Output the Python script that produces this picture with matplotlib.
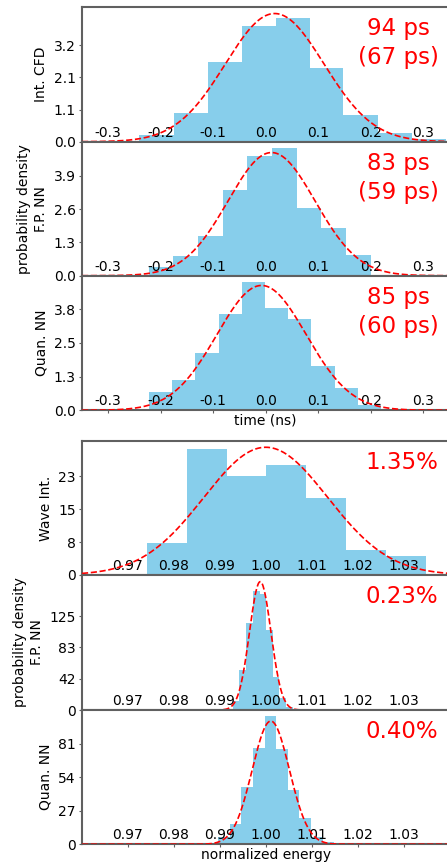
import numpy as np
import matplotlib
matplotlib.use("Agg")
import matplotlib.pyplot as plt

plt.rcParams['axes.unicode_minus'] = False
plt.rcParams['font.family'] = ['DejaVu Sans']
plt.rcParams['font.size'] = 10

# ---------------- data ----------------
# timing histograms (ns)
cfd_edges = [-0.241, -0.175, -0.110, -0.045, 0.019, 0.084, 0.148, 0.213, 0.278, 0.343]
cfd_heights = [0.21, 0.94, 2.64, 3.83, 4.08, 2.43, 0.87, 0.28, 0.08]

fpt_edges = [-0.223, -0.176, -0.129, -0.082, -0.035, 0.012, 0.059, 0.106, 0.153, 0.200]
fpt_heights = [0.33, 0.78, 1.54, 3.33, 4.67, 4.98, 2.63, 1.86, 0.81]

qnt_edges = [-0.223, -0.179, -0.134, -0.090, -0.046, -0.002, 0.043, 0.087, 0.131, 0.176, 0.220]
qnt_heights = [0.69, 1.13, 2.15, 3.62, 4.83, 3.85, 3.43, 1.66, 0.84, 0.21]

# energy histograms (normalized)
wav_edges = [0.9655, 0.9742, 0.9828, 0.9915, 1.0001, 1.0088, 1.0175, 1.0261, 1.0348, 1.0434]
wav_heights = [0.25, 7.3, 29.2, 22.9, 25.5, 17.85, 5.8, 4.3, 0.25]

fpe_edges = [0.99283, 0.99428, 0.99573, 0.99719, 0.99864, 1.00009, 1.00154, 1.00299, 1.00445, 1.00590]
fpe_heights = [12, 53, 116, 158, 154, 106, 44, 15.5, 4]

qne_edges = [0.9897, 0.9922, 0.9947, 0.9973, 0.9998, 1.0023, 1.0048, 1.0073, 1.0099, 1.0124, 1.0149]
qne_heights = [6, 16, 46, 77, 102.8, 76, 43.5, 21.3, 6, 1.6]

# gaussian fit parameters (mean, sigma)
fit_mu = [0.017, 0.011, -0.008, 1.000, 0.9988, 1.0011]
fit_sigma = [0.094, 0.083, 0.085, 0.0135, 0.00234, 0.00404]

panel_labels = ["Int. CFD", "probability density\nF.P. NN", "Quan. NN",
                "Wave Int.", "probability density\nF.P. NN", "Quan. NN"]
res_texts = ["94 ps\n(67 ps)", "83 ps\n(59 ps)", "85 ps\n(60 ps)",
             "1.35%", "0.23%", "0.40%"]

ylims = [4.46, 5.23, 5.06, 31.0, 179.3, 107.6]
yticks = [[0, 1.065, 2.13, 3.195], [0, 1.3, 2.6, 3.9], [0, 1.265, 2.53, 3.795],
          [0, 7.6, 15.2, 22.8], [0, 41.6, 83.2, 124.8], [0, 26.9, 53.8, 80.7]]
ytick_labels = [["0.0", "1.1", "2.1", "3.2"], ["0.0", "1.3", "2.6", "3.9"],
                ["0.0", "1.3", "2.5", "3.8"], ["0", "8", "15", "23"],
                ["0", "42", "83", "125"], ["0", "27", "54", "81"]]

time_ticks = [-0.3, -0.2, -0.1, 0.0, 0.1, 0.2, 0.3]
time_tick_labels = ["-0.3", "-0.2", "-0.1", "0.0", "0.1", "0.2", "0.3"]
energy_ticks = [0.97, 0.98, 0.99, 1.00, 1.01, 1.02, 1.03]
energy_tick_labels = ["0.97", "0.98", "0.99", "1.00", "1.01", "1.02", "1.03"]

time_xlim = (-0.35, 0.35)
energy_xlim = (0.96, 1.04)

edges_all = [cfd_edges, fpt_edges, qnt_edges, wav_edges, fpe_edges, qne_edges]
heights_all = [cfd_heights, fpt_heights, qnt_heights, wav_heights, fpe_heights, qne_heights]

# ---------------- figure ----------------
W, H = 447, 865
fig = plt.figure(figsize=(W / 100, H / 100), dpi=100)

# axes extents in pixels (top, bottom)
px_rows = [(7, 141.7), (141.7, 275.7), (275.7, 410.3),
           (441, 575), (575, 710), (710, 844.3)]
left_px, right_px = 82, 449.5

spine_col = "#606060"
axes = []
for i, (t, b) in enumerate(px_rows):
    ax = fig.add_axes([left_px / W, 1 - b / H, (right_px - left_px) / W, (b - t) / H])
    axes.append(ax)
    e = np.array(edges_all[i])
    h = np.array(heights_all[i])
    ax.bar(e[:-1], h, width=np.diff(e), align='edge', color='skyblue',
           edgecolor='none', linewidth=0, zorder=1)
    if i < 3:
        xl = time_xlim
        ax.set_xticks(time_ticks)
        ax.set_xticklabels(time_tick_labels)
    else:
        xl = energy_xlim
        ax.set_xticks(energy_ticks)
        ax.set_xticklabels(energy_tick_labels)
    xs = np.linspace(xl[0], xl[1], 600)
    mu, sg = fit_mu[i], fit_sigma[i]
    ys = np.exp(-0.5 * ((xs - mu) / sg) ** 2) / (sg * np.sqrt(2 * np.pi))
    ax.plot(xs, ys, 'r--', lw=1.2, zorder=3)
    ax.set_xlim(*xl)
    ax.set_ylim(0, ylims[i])
    ax.set_yticks(yticks[i])
    ax.set_yticklabels(ytick_labels[i])
    if "\n" in panel_labels[i]:
        ax.set_ylabel(panel_labels[i], linespacing=1.3)
    else:
        ax.set_ylabel(panel_labels[i])
    ax.tick_params(axis='x', direction='out', pad=-14, length=2.5,
                   color=spine_col, labelsize=10)
    ax.tick_params(axis='y', direction='out', pad=2, length=2.5,
                   color=spine_col, labelsize=10)
    for sp in ax.spines.values():
        sp.set_color(spine_col)
        sp.set_linewidth(1.5)
    ax.text(0.970, 0.925, res_texts[i], transform=ax.transAxes, ha='right',
            va='top', multialignment='center', linespacing=1.34,
            color='red', fontsize=16.5, zorder=5)

axes[2].set_xlabel("time (ns)", labelpad=0)
axes[5].set_xlabel("normalized energy", labelpad=0)

fig.savefig("out.png", dpi=100)
